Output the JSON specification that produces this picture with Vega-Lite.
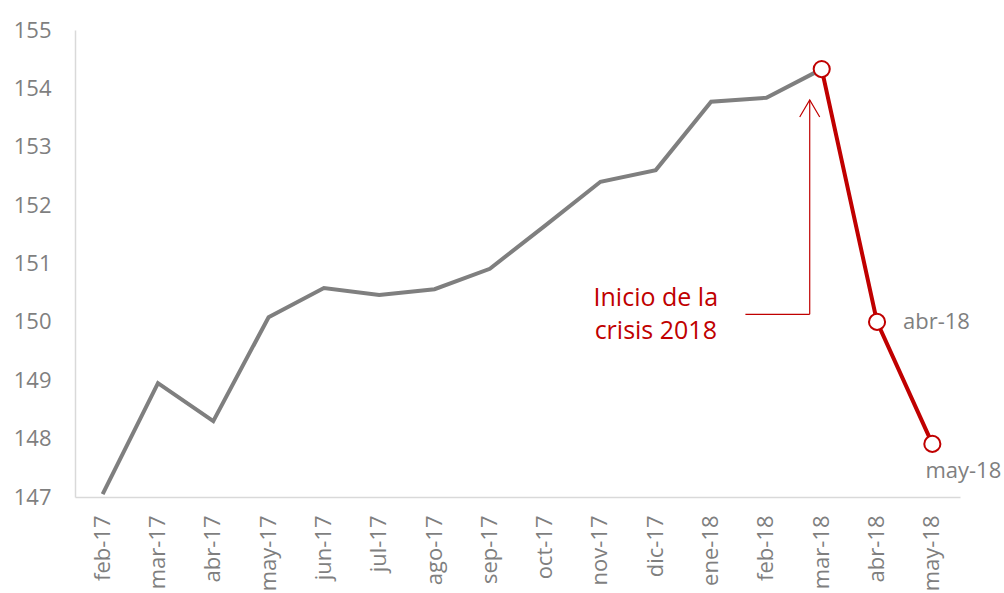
{
  "$schema": "https://vega.github.io/schema/vega-lite/v6.json",
  "width": 885,
  "height": 467,
  "autosize": {"type": "none"},
  "padding": {"left": 75, "top": 30, "right": 44, "bottom": 96},
  "background": "white",
  "config": {
    "view": {"stroke": null},
    "font": "Open Sans",
    "axis": {"grid": false, "ticks": false, "domainColor": "#d9d9d9", "domainWidth": 1.5, "labelColor": "#7f7f7f", "labelFont": "Open Sans", "title": null}
  },
  "datasets": {
    "serie": [
      {"mes": "feb-17", "valor": 147.05, "tramo": "base"},
      {"mes": "mar-17", "valor": 148.95, "tramo": "base"},
      {"mes": "abr-17", "valor": 148.30, "tramo": "base"},
      {"mes": "may-17", "valor": 150.08, "tramo": "base"},
      {"mes": "jun-17", "valor": 150.58, "tramo": "base"},
      {"mes": "jul-17", "valor": 150.46, "tramo": "base"},
      {"mes": "ago-17", "valor": 150.56, "tramo": "base"},
      {"mes": "sep-17", "valor": 150.91, "tramo": "base"},
      {"mes": "oct-17", "valor": 151.65, "tramo": "base"},
      {"mes": "nov-17", "valor": 152.40, "tramo": "base"},
      {"mes": "dic-17", "valor": 152.60, "tramo": "base"},
      {"mes": "ene-18", "valor": 153.77, "tramo": "base"},
      {"mes": "feb-18", "valor": 153.84, "tramo": "base"},
      {"mes": "mar-18", "valor": 154.33, "tramo": "base"},
      {"mes": "mar-18", "valor": 154.33, "tramo": "crisis"},
      {"mes": "abr-18", "valor": 150.00, "tramo": "crisis"},
      {"mes": "may-18", "valor": 147.91, "tramo": "crisis"}
    ]
  },
  "encoding": {
    "x": {
      "field": "mes", "type": "ordinal",
      "sort": ["feb-17","mar-17","abr-17","may-17","jun-17","jul-17","ago-17","sep-17","oct-17","nov-17","dic-17","ene-18","feb-18","mar-18","abr-18","may-18"],
      "scale": {"paddingInner": 0, "paddingOuter": 0},
      "axis": {"labelAngle": -90, "labelFontSize": 22, "labelPadding": 18, "labelAlign": "right", "labelBaseline": "middle"}
    },
    "y": {
      "field": "valor", "type": "quantitative",
      "scale": {"domain": [147, 155], "zero": false, "nice": false},
      "axis": {"values": [147,148,149,150,151,152,153,154,155], "labelFontSize": 22, "labelPadding": 24}
    }
  },
  "layer": [
    {
      "data": {"name": "serie"},
      "mark": {"type": "line", "strokeWidth": 4},
      "encoding": {
        "color": {"field": "tramo", "type": "nominal", "scale": {"domain": ["base", "crisis"], "range": ["#7f7f7f", "#c00000"]}, "legend": null},
        "detail": {"field": "tramo"}
      }
    },
    {
      "data": {"name": "serie"},
      "transform": [{"filter": "datum.tramo == 'crisis'"}],
      "mark": {"type": "point", "shape": "circle", "filled": true, "fill": "white", "stroke": "#c00000", "strokeWidth": 2, "size": 260, "opacity": 1}
    },
    {
      "data": {"values": [{"mes": "abr-18", "valor": 150.0, "etiqueta": "abr-18"}]},
      "mark": {"type": "text", "align": "left", "baseline": "middle", "dx": 26, "fontSize": 22, "color": "#7f7f7f"},
      "encoding": {"text": {"field": "etiqueta"}}
    },
    {
      "data": {"values": [{"mes": "may-18", "valor": 147.91, "etiqueta": "may-18"}]},
      "mark": {"type": "text", "align": "center", "baseline": "middle", "dx": 31, "dy": 27, "fontSize": 22, "color": "#7f7f7f"},
      "encoding": {"text": {"field": "etiqueta"}}
    },
    {
      "data": {"values": [{"mes": "dic-17", "valor": 150.41, "etiqueta": "Inicio de la"}, {"mes": "dic-17", "valor": 149.84, "etiqueta": "crisis 2018"}]},
      "mark": {"type": "text", "align": "center", "baseline": "middle", "fontSize": 25, "color": "#c00000"},
      "encoding": {"text": {"field": "etiqueta"}}
    },
    {
      "data": {"values": [{"mes": "mar-18", "valor": 150.13, "valor2": 153.80}]},
      "mark": {"type": "rule", "color": "#c00000", "strokeWidth": 1.2, "xOffset": -12},
      "encoding": {"y2": {"field": "valor2"}}
    },
    {
      "data": {"values": [{"mes": "feb-18", "mes2": "mar-18", "valor": 150.13}]},
      "mark": {"type": "rule", "color": "#c00000", "strokeWidth": 1.2, "xOffset": -21, "x2Offset": -12},
      "encoding": {"x2": {"field": "mes2"}}
    },
    {
      "data": {"values": [{"mes": "mar-18", "valor": 153.80}]},
      "mark": {"type": "point", "shape": "M-1,1.7L0,0L1,1.7", "filled": false, "stroke": "#c00000", "strokeWidth": 1.2, "size": 400, "xOffset": -12, "opacity": 1}
    }
  ]
}
